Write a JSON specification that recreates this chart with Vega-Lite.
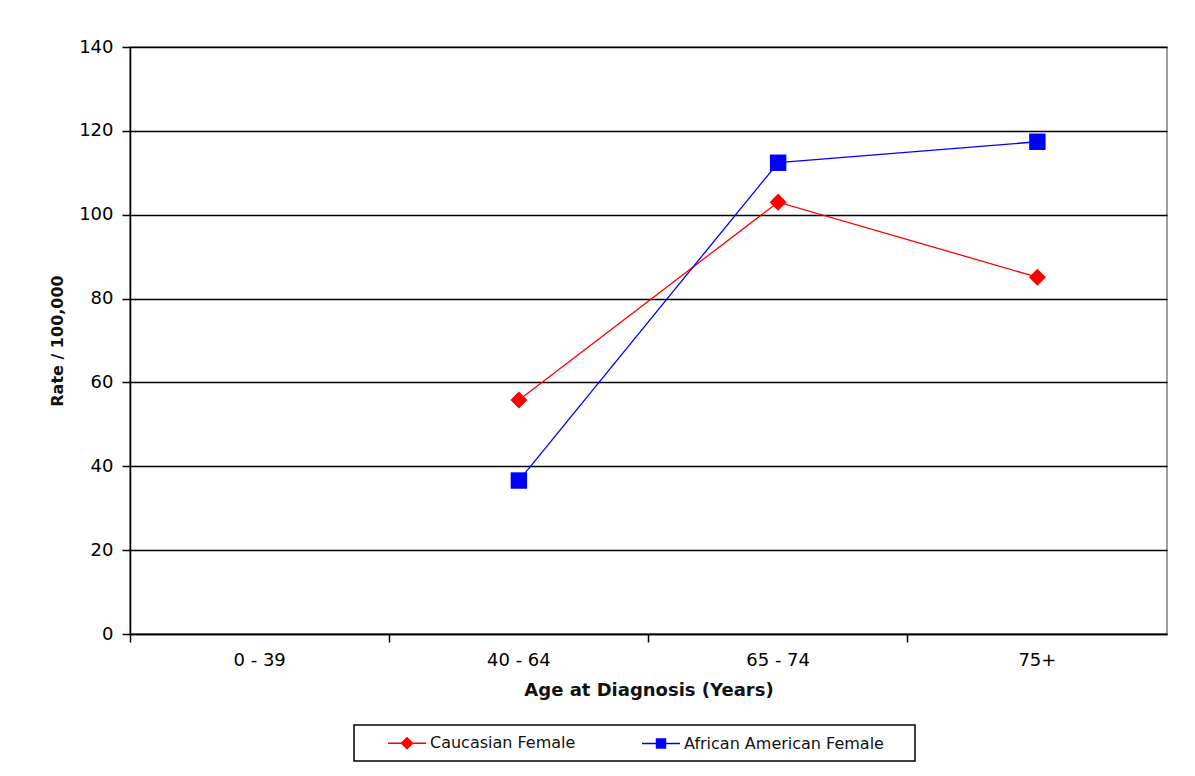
{
  "$schema": "https://vega.github.io/schema/vega-lite/v6.json",
  "autosize": "none",
  "width": 1037,
  "height": 587,
  "padding": {"left": 130, "top": 47, "right": 28, "bottom": 142},
  "background": "white",
  "config": {
    "font": "DejaVu Sans",
    "view": {"stroke": "#808080", "strokeWidth": 1.5},
    "axis": {
      "labelFont": "DejaVu Sans",
      "titleFont": "DejaVu Sans",
      "labelColor": "#000000",
      "titleColor": "#111111",
      "domainColor": "#000000",
      "tickColor": "#000000",
      "domainWidth": 1.5,
      "tickWidth": 1.5
    }
  },
  "data": {
    "values": [
      {"age": "40 - 64", "group": "Caucasian Female", "rate": 55.8},
      {"age": "65 - 74", "group": "Caucasian Female", "rate": 103.0},
      {"age": "75+", "group": "Caucasian Female", "rate": 85.1},
      {"age": "40 - 64", "group": "African American Female", "rate": 36.6},
      {"age": "65 - 74", "group": "African American Female", "rate": 112.4},
      {"age": "75+", "group": "African American Female", "rate": 117.4}
    ]
  },
  "encoding": {
    "x": {
      "field": "age",
      "type": "nominal",
      "bandPosition": 0.5,
      "scale": {"type": "band", "domain": ["0 - 39", "40 - 64", "65 - 74", "75+"], "paddingInner": 0, "paddingOuter": 0},
      "axis": {
        "title": "Age at Diagnosis (Years)",
        "bandPosition": 0,
        "labelAngle": 0,
        "labelFontSize": 18,
        "labelPadding": 9,
        "tickSize": 8,
        "grid": false,
        "titleFontSize": 18,
        "titleFontWeight": "bold",
        "titlePadding": 12
      }
    },
    "y": {
      "field": "rate",
      "type": "quantitative",
      "scale": {"domain": [0, 140], "nice": false},
      "axis": {
        "title": "Rate / 100,000",
        "values": [0, 20, 40, 60, 80, 100, 120, 140],
        "labelFontSize": 18,
        "labelPadding": 9,
        "tickSize": 8,
        "grid": true,
        "gridColor": "#000000",
        "gridWidth": 1.5,
        "gridOpacity": 1,
        "titleFontSize": 16,
        "titleFontWeight": "bold",
        "titlePadding": 13
      }
    },
    "color": {
      "field": "group",
      "type": "nominal",
      "scale": {"domain": ["Caucasian Female", "African American Female"], "range": ["#ff0000", "#0000ff"]},
      "legend": {
        "title": null,
        "orient": "none",
        "direction": "horizontal",
        "legendX": 224,
        "legendY": 678,
        "strokeColor": "#000000",
        "padding": 9,
        "labelFont": "DejaVu Sans",
        "labelFontSize": 16,
        "labelColor": "#111111",
        "labelLimit": 400,
        "symbolSize": 256,
        "symbolStrokeWidth": 1.5,
        "symbolOffset": 35,
        "labelOffset": 14,
        "columnPadding": 41,
        "encode": {
          "legend": {
            "update": {
              "strokeWidth": {"value": 1.5}
            }
          },
          "symbols": {
            "update": {
              "shape": {"signal": "datum.value === 'Caucasian Female' ? 'M-2.375,0L2.375,0M0,-0.69L0.69,0L0,0.69L-0.69,0Z' : 'M-2.375,0L2.375,0M-0.56,-0.56L0.56,-0.56L0.56,0.56L-0.56,0.56ZM30.2,0'"},
              "fill": {"signal": "datum.value === 'Caucasian Female' ? '#ff0000' : '#0000ff'"},
              "stroke": {"signal": "datum.value === 'Caucasian Female' ? '#ff0000' : '#0000ff'"},
              "opacity": {"value": 1}
            }
          }
        }
      }
    }
  },
  "layer": [
    {"mark": {"type": "line", "strokeWidth": 1.3}},
    {
      "transform": [{"filter": "datum.group === 'Caucasian Female'"}],
      "mark": {"type": "point", "filled": true, "opacity": 1, "shape": "diamond", "size": 290}
    },
    {
      "transform": [{"filter": "datum.group === 'African American Female'"}],
      "mark": {"type": "point", "filled": true, "opacity": 1, "shape": "square", "size": 270}
    }
  ]
}
